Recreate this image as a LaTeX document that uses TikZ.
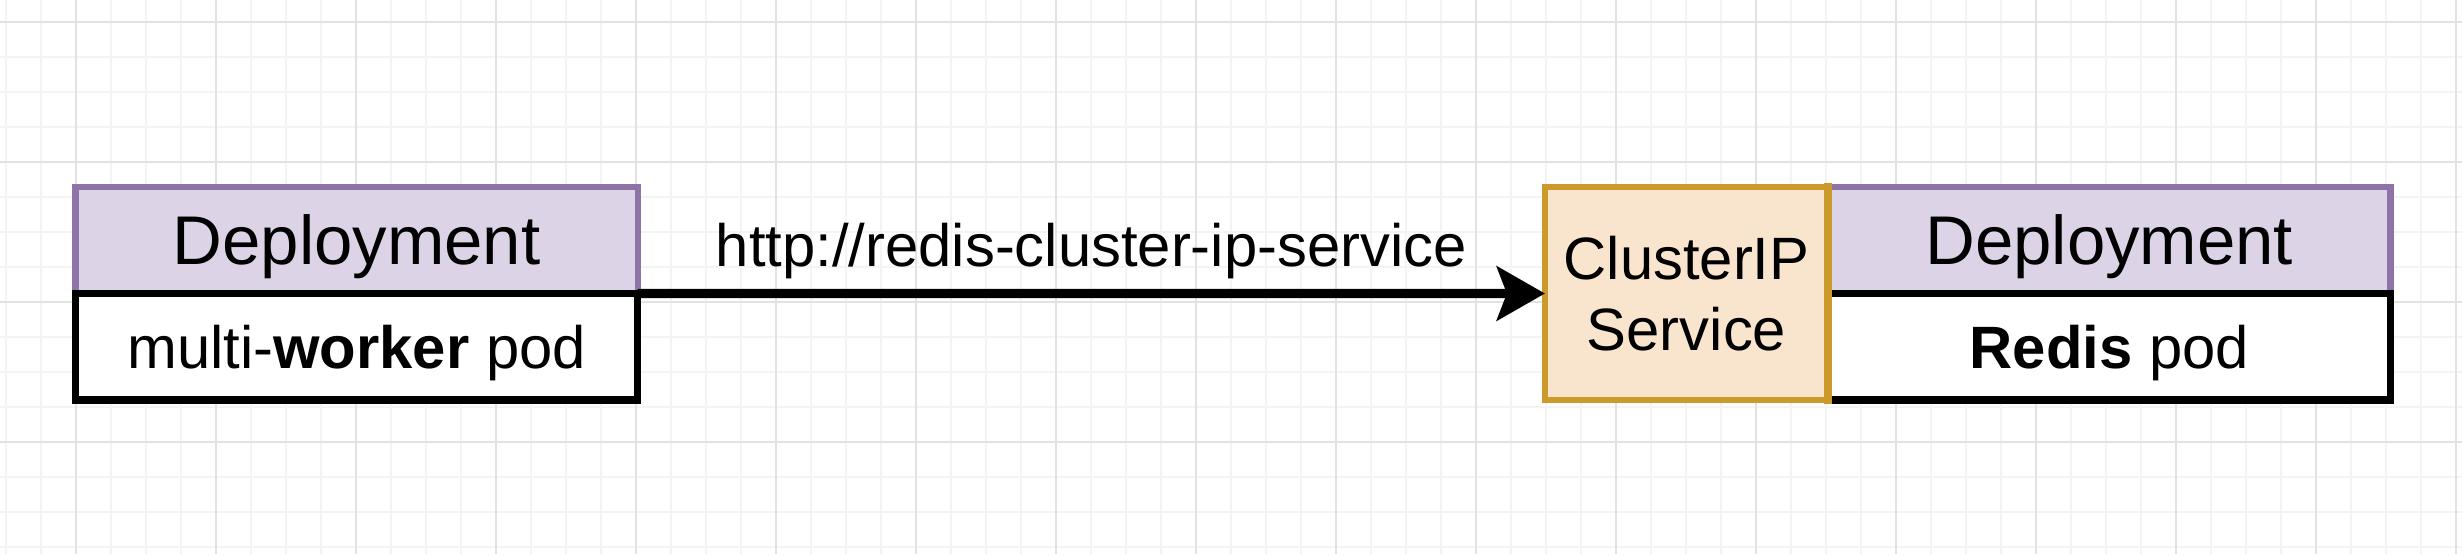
\documentclass[tikz,border=0pt]{standalone}
\usepackage{fontspec}
\setmainfont{Liberation Sans}
\usetikzlibrary{positioning, arrows.meta}

\definecolor{deployfill}{HTML}{DCD4E6}
\definecolor{deployline}{HTML}{8E74A6}
\definecolor{svcfill}{HTML}{F9E5CD}
\definecolor{svcline}{HTML}{CC9A2B}
\definecolor{minorgray}{HTML}{F4F4F4}
\definecolor{majorgray}{HTML}{E2E2E2}

\tikzset{
	deploybox/.style={rectangle, draw=deployline, fill=deployfill, line width=1.8pt,
		minimum width=5.62cm, minimum height=1.065cm, inner sep=0pt, outer sep=0pt,
		font=\fontsize{19.6}{23}\selectfont, text height=14pt, text depth=0pt},
	podbox/.style={rectangle, draw=black, fill=white, line width=2.1pt,
		minimum width=5.62cm, minimum height=1.065cm, inner sep=0pt, outer sep=0pt,
		font=\fontsize{17}{20}\selectfont, text height=12.2pt, text depth=0pt},
	svcbox/.style={rectangle, draw=svcline, fill=svcfill, line width=1.9pt,
		minimum width=2.83cm, minimum height=2.13cm, inner sep=0pt, outer sep=0pt,
		align=center, font=\fontsize{17}{20.2}\selectfont},
	urltext/.style={font=\fontsize{17}{20}\selectfont, inner sep=0pt},
	link/.style={line width=2.6pt, -{Stealth[length=0.48cm, width=0.54cm, inset=0.1cm]}},
	gridminor/.style={minorgray, line width=0.35pt},
	gridmajor/.style={majorgray, line width=0.45pt}
}

\begin{document}
\begin{tikzpicture}[x=0.01cm, y=-0.01cm]
	\useasboundingbox[fill=white] (0,0) rectangle (2462,554);
	% background grid
	\foreach \gx in {6,41,...,2461} \draw[gridminor] (\gx,0) -- (\gx,554);
	\foreach \gy in {22,57,...,554} \draw[gridminor] (0,\gy) -- (2462,\gy);
	\foreach \gx in {76,216,...,2461} \draw[gridmajor] (\gx,0) -- (\gx,554);
	\foreach \gy in {22,162,...,554} \draw[gridmajor] (0,\gy) -- (2462,\gy);

	% worker side
	\node[deploybox] (hdrL) at (356.5,240.25) {Deployment};
	\node[podbox, below=0pt of hdrL] (podL) {multi-\textbf{worker} pod};

	% redis side
	\node[svcbox] (svc) at (1686.5,293.5) {ClusterIP\\Service};
	\node[deploybox, anchor=north west] (hdrR) at (svc.north east) {Deployment};
	\node[podbox, below=0pt of hdrR] (podR) {\textbf{Redis} pod};
	\draw[svcline, line width=2.3pt, line cap=rect] (svc.north east) -- (svc.south east);

	\draw[link] (podL.north east) -- node[urltext, midway, anchor=base, yshift=0.27cm] (url)
		{http://redis-cluster-ip-service} (svc.west);
\end{tikzpicture}
\end{document}
